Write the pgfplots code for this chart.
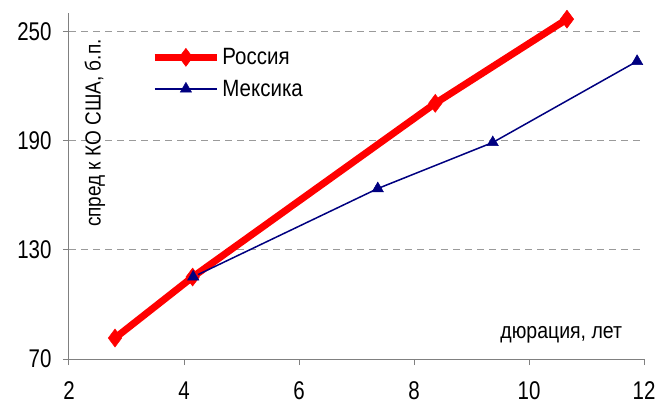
\documentclass[border=0pt]{standalone}
\usepackage{pgfplots}
\pgfplotsset{compat=1.18}
\usepackage{fontspec}
\setmainfont{Liberation Sans}
\definecolor{axgray}{HTML}{808080}
\definecolor{navyb}{HTML}{000080}
\begin{document}
\begin{tikzpicture}
\begin{axis}[
  scale only axis,
  width=575pt, height=346pt,
  xmin=2, xmax=12, ymin=70, ymax=260,
  xtick={2,4,6,8,10,12},
  ytick={70,130,190,250},
  axis x line*=bottom, axis y line*=left,
  axis line style={axgray, line width=1pt, -},
  tick align=outside,
  major tick length=6pt,
  tick style={axgray, line width=1pt},
  ymajorgrids,
  major grid style={axgray!80, line width=0.8pt, dash pattern=on 7pt off 5pt},
  ticklabel style={font=\fontsize{20.5}{24}\selectfont, yscale=1.25},
  /pgf/number format/assume math mode=true,
  xticklabel style={yshift=-10pt},
  yticklabel style={xshift=-8pt},
  legend style={draw=none, fill=none, at={(0.143,0.905)}, anchor=north west,
    font=\fontsize{20.5}{24}\selectfont, row sep=9pt, inner sep=0pt,
    nodes={yscale=1.15}},
  legend cell align=left,
  legend image code/.code={
    \draw[#1] (0pt,0pt) -- (31pt,0pt);
    \draw[#1, mark repeat=2, mark phase=2] plot coordinates {(0pt,0pt) (31pt,0pt) (62pt,0pt)};
  },
  clip=false,
]
\addplot[red, line width=7pt, mark=diamond*, mark size=9pt, mark options={solid, line width=0.5pt}]
  coordinates {(2.8,81.5) (4.15,115) (8.37,210.4) (10.66,256.6)};
\addlegendentry{Россия}
\addplot[navyb, line width=1.5pt, mark=triangle*, mark size=6.5pt, mark options={solid, line width=0.5pt}]
  coordinates {(4.16,115.1) (7.37,163.6) (9.37,188.9) (11.88,233.5)};
\addlegendentry{Мексика}
\node[rotate=90, yscale=1.15, font=\fontsize{19}{22}\selectfont] at (axis cs:2.45,194) {спред к КО США, б.п.};
\node[anchor=base east, yscale=1.15, font=\fontsize{19.5}{22}\selectfont] at (axis cs:11.68,81) {дюрация, лет};
\end{axis}
\pgfresetboundingbox
\useasboundingbox ([shift={(-69pt,-48pt)}]current axis.south west) rectangle ([shift={(14pt,13pt)}]current axis.north east);
\end{tikzpicture}
\end{document}
